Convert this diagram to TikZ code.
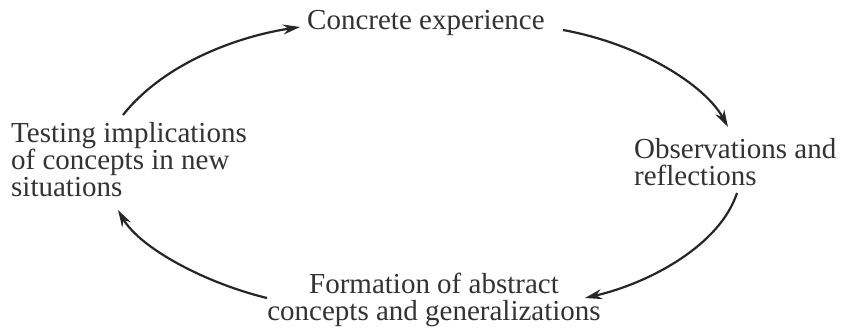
\documentclass[tikz,border=0pt]{standalone}
\usepackage{fontspec}
\setmainfont{Liberation Serif}
\usetikzlibrary{arrows.meta}
\definecolor{inkc}{HTML}{333333}
\definecolor{linec}{HTML}{262626}
\tikzset{
  lbl/.style={font=\fontsize{29}{27}\selectfont, text=inkc, inner sep=0pt},
  cyc/.style={draw=linec, line width=2.2pt, -{Stealth[length=17pt,width=10pt]}}
}
\begin{document}
\begin{tikzpicture}[x=1pt,y=-1pt]
\useasboundingbox[fill=white] (0,0) rectangle (846,330);
\node[lbl, anchor=west] (ce) at (307,23) {Concrete experience};
\node[lbl, anchor=north west, align=left] (obs) at (634,138) {Observations and\\reflections};
\node[lbl, anchor=north west, align=left] (test) at (11,122) {Testing implications\\of concepts in new\\situations};
\node[lbl, anchor=south, align=center] (form) at (434,327) {Formation of abstract\\concepts and generalizations};
\coordinate (a1s) at (123,115);
\coordinate (a1e) at (300,27);
\coordinate (a2s) at (563,30);
\coordinate (a2e) at (728,127);
\coordinate (a3s) at (737,193);
\coordinate (a3e) at (585,298);
\coordinate (a4s) at (267,298);
\coordinate (a4e) at (118,210);
\draw[cyc] (a1s) .. controls (165,62) and (240,36) .. (a1e);
\draw[cyc] (a2s) .. controls (640,44) and (705,85) .. (a2e);
\draw[cyc] (a3s) .. controls (720,245) and (650,283) .. (a3e);
\draw[cyc] (a4s) .. controls (205,283) and (140,248) .. (a4e);
\end{tikzpicture}
\end{document}
